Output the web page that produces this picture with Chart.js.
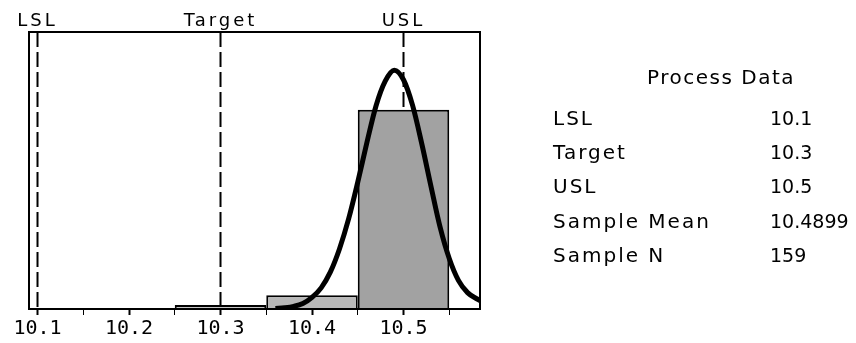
<!DOCTYPE html>
<html>
<head>
<meta charset="utf-8">
<script src="https://cdn.jsdelivr.net/npm/chart.js@4/dist/chart.umd.min.js"></script>
<style>
  body { margin: 0; background: #fff; }
  #wrap { position: relative; width: 856px; height: 343px; }
  .pd { position: absolute; font-family: "DejaVu Sans", sans-serif; font-size: 20px; line-height: 34px; color: #000; white-space: nowrap; }
  .lab { letter-spacing: 2px; }
  .val { font-size: 19px; }
</style>
</head>
<body>
<div id="wrap">
  <canvas id="capChart" width="856" height="343"></canvas>
  <div id="panel"></div>
</div>
<script>
// histogram bins (centres) and counts
const binCenters = [10.3, 10.4, 10.5];
const binCounts = [3, 10, 146];
const binColors = ["#c6c6c6", "#b8b8b8", "#a2a2a2"];

// fitted normal curve
const curveX = [10.36, 10.37, 10.38, 10.39, 10.40, 10.41, 10.42, 10.43, 10.44, 10.45, 10.46, 10.47, 10.48,
                10.49, 10.50, 10.51, 10.52, 10.53, 10.54, 10.55, 10.56, 10.57, 10.58, 10.59];
const curveY = [0.4, 0.9, 1.9, 4, 8.5, 15.5, 27, 44, 66, 93, 122, 149, 167,
                175, 168, 149, 121, 90, 60, 37, 21, 12, 7.5, 4];

// spec limits
const refNames = ["LSL", "Target", "USL"];
const refValues = [10.1, 10.3, 10.5];

// axis ticks
const majorTicks = [10.1, 10.2, 10.3, 10.4, 10.5];
const minorTicks = [10.15, 10.25, 10.35, 10.45, 10.55];

// process data table
const pdLabels = ["LSL", "Target", "USL", "Sample Mean", "Sample N"];
const pdValues = ["10.1", "10.3", "10.5", "10.4899", "159"];

const yTop = 203;

const panel = document.getElementById("panel");
let html = '<div class="pd lab" style="left:647px;top:60px;letter-spacing:1.5px">Process Data</div>';
pdLabels.forEach((l, i) => {
    const top = 101 + i * 34.2;
    html += `<div class="pd lab" style="left:553px;top:${top}px">${l}</div>`;
    html += `<div class="pd val" style="left:770px;top:${top}px">${pdValues[i]}</div>`;
});
panel.innerHTML = html;

const isMajor = v => majorTicks.some(m => Math.abs(m - v) < 1e-6);

const refSets = refValues.map((v, i) => ({
    type: "line",
    label: refNames[i],
    data: [{ x: v, y: yTop }, { x: v, y: 0 }],
    borderColor: "#000",
    borderWidth: 2,
    borderDash: [15, 5],
    pointRadius: 0,
    order: 3
}));

const frameAndLabels = {
    id: "frameAndLabels",
    afterDatasetsDraw(chart) {
        const { ctx, chartArea, scales } = chart;
        ctx.save();
        ctx.strokeStyle = "#000";
        ctx.lineWidth = 2;
        ctx.strokeRect(chartArea.left, chartArea.top, chartArea.right - chartArea.left, chartArea.bottom - chartArea.top);
        ctx.fillStyle = "#000";
        ctx.font = "18px 'DejaVu Sans'";
        ctx.letterSpacing = "3px";
        ctx.textAlign = "center";
        ctx.textBaseline = "alphabetic";
        refValues.forEach((v, i) => {
            ctx.fillText(refNames[i], scales.x.getPixelForValue(v), 26);
        });
        ctx.restore();
    }
};

new Chart(document.getElementById("capChart").getContext("2d"), {
    data: {
        datasets: [
            {
                type: "line",
                label: "Fit",
                data: curveX.map((x, i) => ({ x: x, y: curveY[i] })),
                borderColor: "#000",
                borderWidth: 5,
                pointRadius: 0,
                cubicInterpolationMode: "monotone",
                order: 1
            },
            {
                type: "bar",
                label: "Count",
                data: binCenters.map((x, i) => ({ x: x, y: binCounts[i] })),
                backgroundColor: binColors,
                borderColor: "#000",
                borderWidth: 2,
                // the ruler picks up the 0.05 minor tick spacing, so twice that fills a 0.1 bin
                barPercentage: 2,
                categoryPercentage: 1,
                order: 2
            },
            ...refSets
        ]
    },
    options: {
        responsive: false,
        animation: false,
        layout: { padding: { left: 29, right: 376, top: 32, bottom: 0 } },
        plugins: { legend: { display: false }, tooltip: { enabled: false } },
        scales: {
            x: {
                type: "linear",
                offset: false,
                min: 10.0907,
                max: 10.5836,
                afterBuildTicks: axis => {
                    axis.ticks = [...majorTicks, ...minorTicks].sort((a, b) => a - b).map(v => ({ value: v }));
                },
                ticks: {
                    autoSkip: false,
                    maxRotation: 0,
                    padding: 2,
                    color: "#000",
                    font: { family: "DejaVu Sans Mono", size: 20 },
                    callback: v => isMajor(v) ? v.toFixed(1) : ""
                },
                grid: {
                    offset: false,
                    drawOnChartArea: false,
                    drawTicks: true,
                    tickLength: 6,
                    tickColor: "#000",
                    tickWidth: c => (c.tick && !isMajor(c.tick.value)) ? 1 : 2
                },
                border: { display: true, color: "#000", width: 2 }
            },
            y: {
                display: false,
                min: 0,
                max: yTop
            }
        }
    },
    plugins: [frameAndLabels]
});
</script>
</body>
</html>
